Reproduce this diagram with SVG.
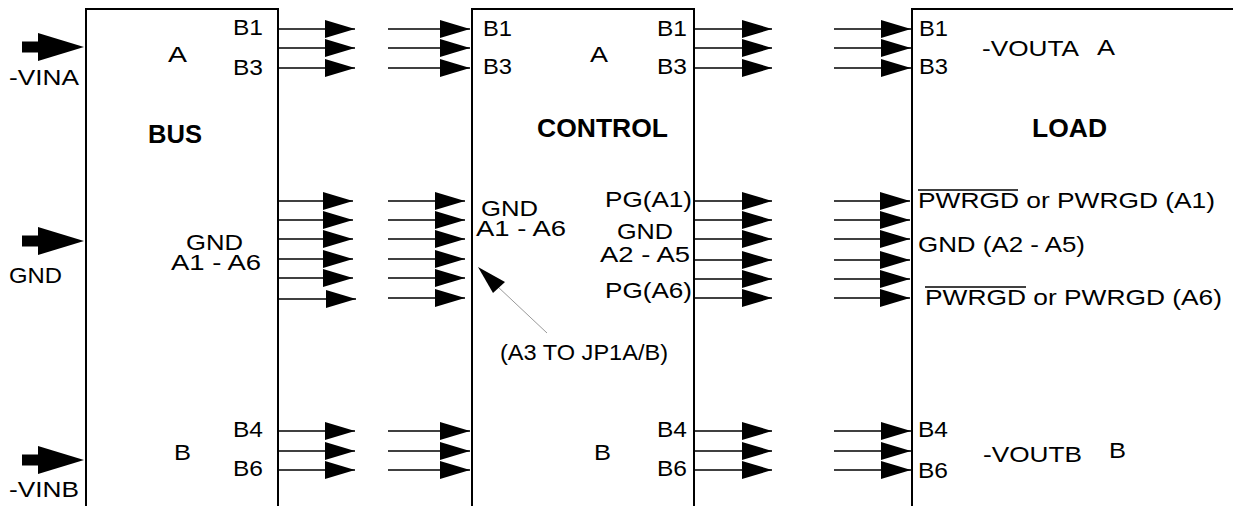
<svg xmlns="http://www.w3.org/2000/svg" width="1233" height="506" viewBox="0 0 1233 506">
<style>
.box{fill:none;stroke:#000;stroke-width:2}
.c{stroke:#000;stroke-width:1.6;marker-end:url(#ah)}
.t{font-family:"Liberation Sans",Arial,sans-serif;font-size:22.5px;fill:#000}
.b{font-family:"Liberation Sans",Arial,sans-serif;font-size:25px;font-weight:bold;fill:#000}
.big{fill:#000}
.ov{stroke:#000;stroke-width:1.5}
</style>
<defs>
<marker id="ah" viewBox="0 0 30 18" refX="30" refY="9" markerWidth="30" markerHeight="18" markerUnits="userSpaceOnUse" orient="auto">
<path d="M0,0 L30,9 L0,18 z" fill="#000"/>
</marker>
<g id="bigarrow"><rect x="22" y="-5.5" width="17" height="11"/><path d="M38,-14 L84,0 L38,14 z"/></g>
</defs>
<rect width="1233" height="506" fill="#fff"/>

<g id="bus">
<path class="box" d="M86,507 V9 H278 V507"/>
<text class="t" x="233" y="35" textLength="30" lengthAdjust="spacingAndGlyphs">B1</text>
<text class="t" x="168" y="62" textLength="19" lengthAdjust="spacingAndGlyphs">A</text>
<text class="t" x="233" y="75" textLength="30" lengthAdjust="spacingAndGlyphs">B3</text>
<text class="b" x="148" y="143" textLength="54" lengthAdjust="spacingAndGlyphs">BUS</text>
<text class="t" x="186" y="250" textLength="57" lengthAdjust="spacingAndGlyphs">GND</text>
<text class="t" x="171" y="270" textLength="90" lengthAdjust="spacingAndGlyphs">A1 - A6</text>
<text class="t" x="233" y="437" textLength="30" lengthAdjust="spacingAndGlyphs">B4</text>
<text class="t" x="174" y="460" textLength="17" lengthAdjust="spacingAndGlyphs">B</text>
<text class="t" x="233" y="476" textLength="30" lengthAdjust="spacingAndGlyphs">B6</text>
</g>

<g id="control">
<path class="box" d="M472,507 V9 H694 V507"/>
<text class="t" x="483" y="36" textLength="29" lengthAdjust="spacingAndGlyphs">B1</text>
<text class="t" x="483" y="74" textLength="29" lengthAdjust="spacingAndGlyphs">B3</text>
<text class="t" x="590" y="62" textLength="18" lengthAdjust="spacingAndGlyphs">A</text>
<text class="t" x="657" y="36" textLength="30" lengthAdjust="spacingAndGlyphs">B1</text>
<text class="t" x="657" y="74" textLength="30" lengthAdjust="spacingAndGlyphs">B3</text>
<text class="b" x="537" y="137" textLength="131" lengthAdjust="spacingAndGlyphs">CONTROL</text>
<text class="t" x="481" y="216" textLength="57" lengthAdjust="spacingAndGlyphs">GND</text>
<text class="t" x="476" y="236" textLength="90" lengthAdjust="spacingAndGlyphs">A1 - A6</text>
<text class="t" x="605" y="207" textLength="87" lengthAdjust="spacingAndGlyphs">PG(A1)</text>
<text class="t" x="617" y="239" textLength="56" lengthAdjust="spacingAndGlyphs">GND</text>
<text class="t" x="600" y="262" textLength="90" lengthAdjust="spacingAndGlyphs">A2 - A5</text>
<text class="t" x="605" y="298" textLength="87" lengthAdjust="spacingAndGlyphs">PG(A6)</text>
<text class="t" x="500" y="360" textLength="168" lengthAdjust="spacingAndGlyphs">(A3 TO JP1A/B)</text>
<text class="t" x="657" y="437" textLength="30" lengthAdjust="spacingAndGlyphs">B4</text>
<text class="t" x="594" y="460" textLength="17" lengthAdjust="spacingAndGlyphs">B</text>
<text class="t" x="657" y="476" textLength="30" lengthAdjust="spacingAndGlyphs">B6</text>
</g>

<g id="load">
<path class="box" d="M912,507 V9 H1234"/>
<text class="t" x="919" y="36" textLength="29" lengthAdjust="spacingAndGlyphs">B1</text>
<text class="t" x="919" y="74" textLength="29" lengthAdjust="spacingAndGlyphs">B3</text>
<text class="t" x="982" y="56" textLength="97" lengthAdjust="spacingAndGlyphs">-VOUTA</text>
<text class="t" x="1097" y="55" textLength="18" lengthAdjust="spacingAndGlyphs">A</text>
<text class="b" x="1032" y="137" textLength="75" lengthAdjust="spacingAndGlyphs">LOAD</text>
<text class="t" x="918" y="208" textLength="297" lengthAdjust="spacingAndGlyphs">PWRGD or PWRGD (A1)</text>
<line class="ov" x1="918" y1="190" x2="1018" y2="190"/>
<text class="t" x="918" y="252" textLength="167" lengthAdjust="spacingAndGlyphs">GND (A2 - A5)</text>
<text class="t" x="925" y="305" textLength="297" lengthAdjust="spacingAndGlyphs">PWRGD or PWRGD (A6)</text>
<line class="ov" x1="925" y1="287" x2="1026" y2="287"/>
<text class="t" x="918" y="437" textLength="30" lengthAdjust="spacingAndGlyphs">B4</text>
<text class="t" x="983" y="462" textLength="99" lengthAdjust="spacingAndGlyphs">-VOUTB</text>
<text class="t" x="1109" y="458" textLength="17" lengthAdjust="spacingAndGlyphs">B</text>
<text class="t" x="918" y="478" textLength="30" lengthAdjust="spacingAndGlyphs">B6</text>
</g>

<g id="inputs">
<use href="#bigarrow" class="big" transform="translate(0,47)"/>
<text class="t" x="9" y="85" textLength="70" lengthAdjust="spacingAndGlyphs">-VINA</text>
<use href="#bigarrow" class="big" transform="translate(0,241)"/>
<text class="t" x="9" y="283" textLength="53" lengthAdjust="spacingAndGlyphs">GND</text>
<use href="#bigarrow" class="big" transform="translate(0,460)"/>
<text class="t" x="9" y="497" textLength="70" lengthAdjust="spacingAndGlyphs">-VINB</text>
</g>

<g id="connectors">
<line class="c" x1="278" y1="29" x2="355" y2="29"/>
<line class="c" x1="278" y1="48" x2="355" y2="48"/>
<line class="c" x1="278" y1="68" x2="355" y2="68"/>
<line class="c" x1="388" y1="29" x2="470" y2="29"/>
<line class="c" x1="388" y1="48" x2="470" y2="48"/>
<line class="c" x1="388" y1="68" x2="470" y2="68"/>
<line class="c" x1="694" y1="29" x2="772" y2="29"/>
<line class="c" x1="694" y1="48" x2="772" y2="48"/>
<line class="c" x1="694" y1="68" x2="772" y2="68"/>
<line class="c" x1="834" y1="29" x2="911" y2="29"/>
<line class="c" x1="834" y1="48" x2="911" y2="48"/>
<line class="c" x1="834" y1="68" x2="911" y2="68"/>

<line class="c" x1="278" y1="201" x2="353" y2="201"/>
<line class="c" x1="278" y1="220" x2="353" y2="220"/>
<line class="c" x1="278" y1="239" x2="353" y2="239"/>
<line class="c" x1="278" y1="259" x2="353" y2="259"/>
<line class="c" x1="278" y1="278" x2="353" y2="278"/>
<line class="c" x1="278" y1="299" x2="356" y2="299"/>
<line class="c" x1="388" y1="201" x2="465" y2="201"/>
<line class="c" x1="388" y1="220" x2="465" y2="220"/>
<line class="c" x1="388" y1="239" x2="465" y2="239"/>
<line class="c" x1="388" y1="259" x2="465" y2="259"/>
<line class="c" x1="388" y1="278" x2="465" y2="278"/>
<line class="c" x1="388" y1="298" x2="465" y2="298"/>
<line class="c" x1="694" y1="201" x2="772" y2="201"/>
<line class="c" x1="694" y1="220" x2="772" y2="220"/>
<line class="c" x1="694" y1="239" x2="772" y2="239"/>
<line class="c" x1="694" y1="260" x2="772" y2="260"/>
<line class="c" x1="694" y1="279" x2="772" y2="279"/>
<line class="c" x1="694" y1="298" x2="772" y2="298"/>
<line class="c" x1="834" y1="201" x2="910" y2="201"/>
<line class="c" x1="834" y1="220" x2="910" y2="220"/>
<line class="c" x1="834" y1="239" x2="910" y2="239"/>
<line class="c" x1="834" y1="260" x2="910" y2="260"/>
<line class="c" x1="834" y1="279" x2="910" y2="279"/>
<line class="c" x1="834" y1="298" x2="910" y2="298"/>

<line class="c" x1="278" y1="431" x2="355" y2="431"/>
<line class="c" x1="278" y1="451" x2="355" y2="451"/>
<line class="c" x1="278" y1="470" x2="355" y2="470"/>
<line class="c" x1="388" y1="431" x2="470" y2="431"/>
<line class="c" x1="388" y1="451" x2="470" y2="451"/>
<line class="c" x1="388" y1="470" x2="470" y2="470"/>
<line class="c" x1="694" y1="431" x2="772" y2="431"/>
<line class="c" x1="694" y1="451" x2="772" y2="451"/>
<line class="c" x1="694" y1="470" x2="772" y2="470"/>
<line class="c" x1="834" y1="431" x2="911" y2="431"/>
<line class="c" x1="834" y1="451" x2="911" y2="451"/>
<line class="c" x1="834" y1="470" x2="911" y2="470"/>

<line x1="547" y1="333" x2="497" y2="286" stroke="#999" stroke-width="1"/>
<path d="M478,267 L505,282 L493,293 z" fill="#000"/>
</g>
</svg>
